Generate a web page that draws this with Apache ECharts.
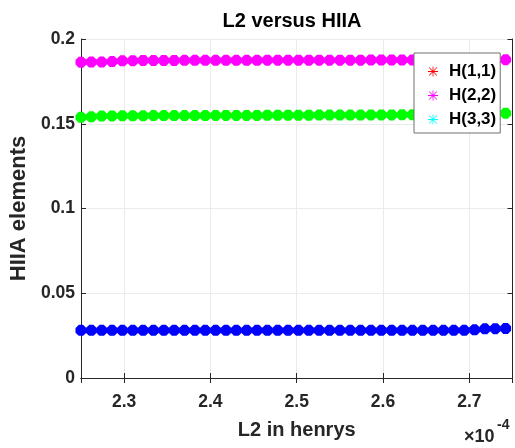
<!DOCTYPE html>
<html>
<head>
<meta charset="utf-8">
<script src="https://cdn.jsdelivr.net/npm/echarts@6/dist/echarts.min.js"></script>
<style>
  html, body { margin: 0; padding: 0; background: #fff; }
  #chart { width: 515px; height: 448px; }
</style>
</head>
<body>
<div id="chart"></div>
<script>
// L2 sweep, in units of 1e-4 H
const l2Values = [
  2.250, 2.262, 2.274, 2.286, 2.298, 2.310, 2.322, 2.334, 2.346, 2.358,
  2.370, 2.382, 2.394, 2.406, 2.418, 2.430, 2.442, 2.454, 2.466, 2.478,
  2.490, 2.502, 2.514, 2.526, 2.538, 2.550, 2.562, 2.574, 2.586, 2.598,
  2.610, 2.622, 2.634, 2.646, 2.658, 2.670, 2.682, 2.694, 2.706, 2.718,
  2.730, 2.742
];

// Diagonal HIIA elements
const h11 = [
  0.0281, 0.0281, 0.0281, 0.0281, 0.0281, 0.0281, 0.0281, 0.0281, 0.0281, 0.0281,
  0.0281, 0.0281, 0.0281, 0.0281, 0.0281, 0.0281, 0.0281, 0.0281, 0.0281, 0.0281,
  0.0281, 0.0281, 0.0281, 0.0281, 0.0281, 0.0281, 0.0281, 0.0281, 0.0281, 0.0281,
  0.0281, 0.0281, 0.0281, 0.0281, 0.0281, 0.0281, 0.0281, 0.0281, 0.0284, 0.0290,
  0.0291, 0.0292
];
const h22 = [
  0.1863, 0.1864, 0.1864, 0.1867, 0.1871, 0.1872, 0.1873, 0.1873, 0.1873, 0.1873,
  0.1874, 0.1874, 0.1874, 0.1874, 0.1874, 0.1874, 0.1874, 0.1874, 0.1875, 0.1875,
  0.1875, 0.1875, 0.1875, 0.1875, 0.1875, 0.1875, 0.1875, 0.1875, 0.1876, 0.1876,
  0.1876, 0.1876, 0.1876, 0.1876, 0.1876, 0.1876, 0.1876, 0.1876, 0.1876, 0.1877,
  0.1877, 0.1878
];
const h33 = [
  0.1538, 0.1541, 0.1545, 0.1546, 0.1547, 0.1547, 0.1547, 0.1548, 0.1548, 0.1548,
  0.1548, 0.1548, 0.1548, 0.1549, 0.1549, 0.1549, 0.1549, 0.1549, 0.1550, 0.1550,
  0.1550, 0.1550, 0.1550, 0.1551, 0.1551, 0.1551, 0.1551, 0.1551, 0.1552, 0.1552,
  0.1552, 0.1553, 0.1553, 0.1553, 0.1554, 0.1554, 0.1555, 0.1555, 0.1556, 0.1557,
  0.1559, 0.1562
];

const seriesNames = ['H(1,1)', 'H(2,2)', 'H(3,3)'];
const markerColors = ['#0000ff', '#ff00ff', '#00ff00'];
const legendColors = ['#ff0000', '#ff00ff', '#00ffff'];

const FONT = '"Liberation Sans", Arial, Helvetica, sans-serif';
const INK = '#262626';

// Filled marker: thick plus + thick cross
const blobMarker = 'path://M6,0 L14,0 L14,20 L6,20 Z M0,6 L20,6 L20,14 L0,14 Z ' +
  'M5.83,0.17 L19.83,14.17 L14.17,19.83 L0.17,5.83 Z ' +
  'M14.17,0.17 L19.83,5.83 L5.83,19.83 L0.17,14.17 Z';
// Thin asterisk for legend keys
const asterisk = 'path://M9.2,0 L10.8,0 L10.8,20 L9.2,20 Z M0,9.2 L20,9.2 L20,10.8 L0,10.8 Z ' +
  'M1.6,2.7 L2.7,1.6 L18.4,17.3 L17.3,18.4 Z ' +
  'M17.3,1.6 L18.4,2.7 L2.7,18.4 L1.6,17.3 Z';

const ySets = [h11, h22, h33];
const series = seriesNames.map((name, k) => ({
  name: name,
  type: 'scatter',
  data: l2Values.map((x, i) => [x, ySets[k][i]]),
  symbol: blobMarker,
  symbolSize: 11,
  itemStyle: { color: markerColors[k], opacity: 1 },
  emphasis: { disabled: true },
  animation: false
}));

const chart = echarts.init(document.getElementById('chart'), null, { renderer: 'canvas' });

const xCommon = {
  type: 'value',
  min: 2.25,
  max: 2.75,
  splitNumber: 5,
  axisLine: { show: true, lineStyle: { color: INK, width: 1 } },
  axisTick: { show: true, inside: true, length: 5, lineStyle: { color: INK } }
};
const yCommon = {
  type: 'value',
  min: 0,
  max: 0.2,
  interval: 0.05,
  axisLine: { show: true, lineStyle: { color: INK, width: 1 } },
  axisTick: { show: true, inside: true, length: 5, lineStyle: { color: INK } }
};

chart.setOption({
  backgroundColor: '#ffffff',
  animation: false,
  title: {
    text: 'L2 versus HIIA',
    left: 292,
    textAlign: 'center',
    top: 11,
    padding: 0,
    textStyle: { fontFamily: FONT, fontSize: 20, fontWeight: 'bold', color: '#000' }
  },
  grid: { left: 74, right: 2.5, top: 39, bottom: 70, containLabel: false },
  legend: {
    orient: 'vertical',
    left: 414,
    top: 53,
    z: 10,
    padding: [10, 4, 5, 14],
    itemGap: 7,
    itemWidth: 22,
    itemHeight: 10,
    symbolKeepAspect: true,
    backgroundColor: '#ffffff',
    borderColor: '#707070',
    borderWidth: 1,
    borderRadius: 0,
    selectedMode: false,
    textStyle: { fontFamily: FONT, fontSize: 17, fontWeight: 'bold', color: '#000' },
    data: seriesNames.map((n, k) => ({
      name: n,
      icon: asterisk,
      itemStyle: { color: legendColors[k] }
    }))
  },
  xAxis: [
    Object.assign({}, xCommon, {
      position: 'bottom',
      name: 'L2 in henrys',
      nameLocation: 'middle',
      nameGap: 42,
      nameTextStyle: { fontFamily: FONT, fontSize: 20, fontWeight: 'bold', color: INK },
      axisLabel: {
        show: true, margin: 15, showMinLabel: false, showMaxLabel: false,
        fontFamily: FONT, fontSize: 17.5, fontWeight: 'bold', color: INK,
        formatter: v => v.toFixed(1)
      },
      splitLine: { show: true, lineStyle: { color: '#ebebeb', width: 1 } }
    }),
    Object.assign({}, xCommon, {
      position: 'top',
      axisLabel: { show: false },
      splitLine: { show: false }
    })
  ],
  yAxis: [
    Object.assign({}, yCommon, {
      position: 'left',
      name: 'HIIA elements',
      nameLocation: 'middle',
      nameGap: 45,
      nameTextStyle: { fontFamily: FONT, fontSize: 22, fontWeight: 'bold', color: INK },
      axisLabel: {
        show: true, margin: 6,
        fontFamily: FONT, fontSize: 17.5, fontWeight: 'bold', color: INK
      },
      splitLine: { show: true, lineStyle: { color: '#ebebeb', width: 1 } }
    }),
    Object.assign({}, yCommon, {
      position: 'right',
      axisLabel: { show: false },
      splitLine: { show: false }
    })
  ],
  graphic: [
    {
      type: 'text',
      left: 464,
      top: 428,
      style: { text: '\u00d710', font: 'bold 18px ' + FONT, fill: INK }
    },
    {
      type: 'text',
      left: 497,
      top: 418,
      style: { text: '-4', font: 'bold 14px ' + FONT, fill: INK }
    }
  ],
  series: series
});
</script>
</body>
</html>
